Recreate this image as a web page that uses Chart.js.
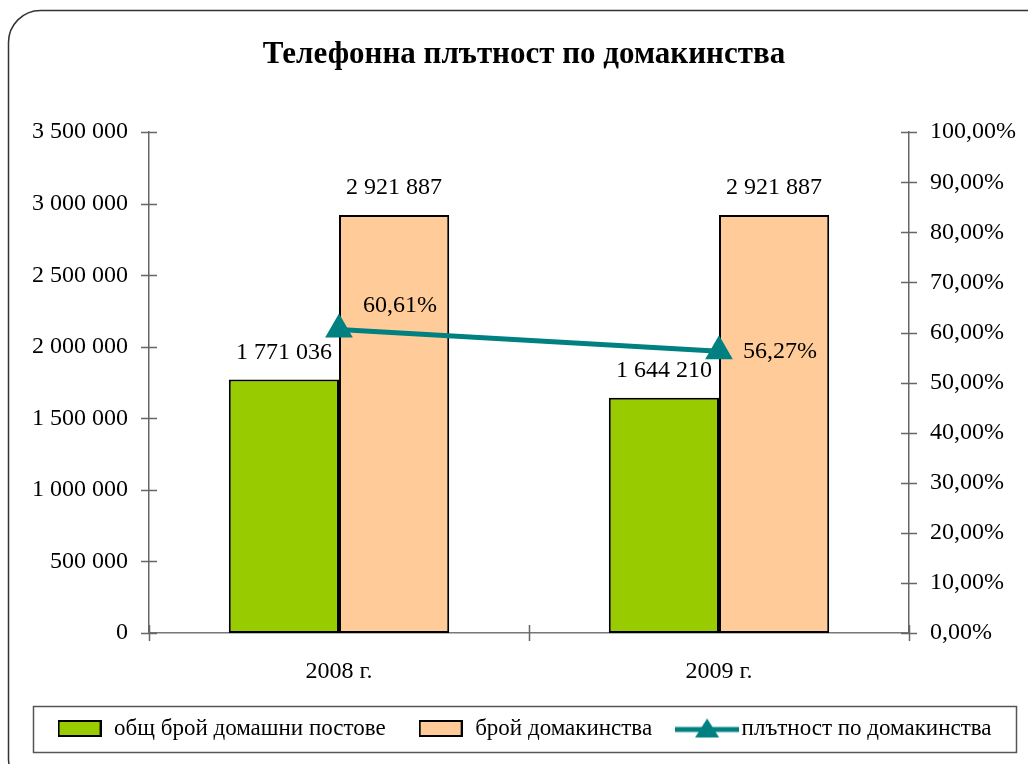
<!DOCTYPE html>
<html lang="bg">
<head>
    <meta charset="UTF-8">
    <title>Телефонна плътност по домакинства</title>
    <script src="https://cdn.jsdelivr.net/npm/chart.js"></script>
    <style>
        html, body { margin: 0; padding: 0; background: #fff; }
        #wrap { width: 1028px; height: 764px; }
    </style>
</head>
<body>
    <div id="wrap"><canvas id="grafico" width="1028" height="764"></canvas></div>

    <script>
        // Данни
        const godini = ['2008 г.', '2009 г.'];
        const postove = [1771036, 1644210];          // общ брой домашни постове
        const domakinstva = [2921887, 2921887];      // брой домакинства
        const plytnost = [0.6061, 0.5627];           // плътност по домакинства

        const SERIF = "'Liberation Serif', 'Times New Roman', serif";
        Chart.defaults.font.family = SERIF;
        Chart.defaults.color = '#000';

        const ZELENO = '#99CC00';
        const PRASKOVA = '#FFCC99';
        const TIRKOAZ = '#008080';

        // Форматиране на числата
        function hilyadi(v) {
            return String(Math.round(v)).replace(/\B(?=(\d{3})+(?!\d))/g, ' ');
        }
        function procent(v) {
            return (v * 100).toFixed(2).replace('.', ',') + '%';
        }

        // Малки картинки за легендата
        function kutiyka(cvyat) {
            const c = document.createElement('canvas');
            c.width = 44; c.height = 17;
            const g = c.getContext('2d');
            g.fillStyle = cvyat;
            g.fillRect(1, 1, 42, 15);
            g.lineWidth = 2;
            g.strokeStyle = '#000';
            g.strokeRect(1, 1, 42, 15);
            return c;
        }
        function liniya() {
            const c = document.createElement('canvas');
            c.width = 64; c.height = 24;
            const g = c.getContext('2d');
            g.strokeStyle = TIRKOAZ;
            g.lineWidth = 5;
            g.beginPath(); g.moveTo(0, 13); g.lineTo(64, 13); g.stroke();
            g.fillStyle = TIRKOAZ;
            g.beginPath(); g.moveTo(32, 2); g.lineTo(44, 21); g.lineTo(20, 21); g.closePath(); g.fill();
            return c;
        }

        // Рамка, кръстосани чертички, рамка на легендата, етикети
        const dopylnitelno = {
            id: 'dopylnitelno',
            beforeDraw(chart) {
                const ctx = chart.ctx;
                ctx.save();
                ctx.fillStyle = '#fff';
                ctx.fillRect(0, 0, chart.width, chart.height);
                ctx.restore();
            },
            afterDraw(chart) {
                const ctx = chart.ctx;
                const a = chart.chartArea;
                ctx.save();
                // рамка на диаграмата
                ctx.strokeStyle = '#333';
                ctx.lineWidth = 1.5;
                ctx.beginPath();
                ctx.roundRect(8.5, 10.5, 1050, 780, 32);
                ctx.stroke();

                // чертички по осите
                ctx.strokeStyle = '#666';
                ctx.lineWidth = 1.5;
                ctx.beginPath();
                const y = chart.scales.y, y1 = chart.scales.y1;
                y.ticks.forEach(t => {
                    const p = Math.round(y.getPixelForValue(t.value)) + 0.5;
                    ctx.moveTo(a.left - 8, p); ctx.lineTo(a.left + 8, p);
                });
                y1.ticks.forEach(t => {
                    const p = Math.round(y1.getPixelForValue(t.value)) + 0.5;
                    ctx.moveTo(a.right - 8, p); ctx.lineTo(a.right + 8, p);
                });
                const n = godini.length;
                for (let i = 0; i <= n; i++) {
                    const p = Math.round(a.left + i * (a.right - a.left) / n) + 0.5;
                    ctx.moveTo(p, a.bottom - 8); ctx.lineTo(p, a.bottom + 8);
                }
                ctx.stroke();

                // рамка на легендата
                const hb = chart.legend.legendHitBoxes;
                if (hb && hb.length) {
                    const sr = hb[0].top + hb[0].height / 2;
                    const lx = hb[0].left - 24;
                    const rx = hb[hb.length - 1].left + hb[hb.length - 1].width + 24;
                    ctx.strokeStyle = '#555';
                    ctx.lineWidth = 1.5;
                    ctx.strokeRect(Math.round(lx) + 0.5, Math.round(sr - 23) + 0.5, Math.round(rx - lx), 46);
                }
                ctx.restore();
            },
            afterDatasetsDraw(chart) {
                const ctx = chart.ctx;
                ctx.save();
                ctx.fillStyle = '#000';
                ctx.font = '24px ' + SERIF;
                ctx.textBaseline = 'middle';
                // стълбове
                [0, 1].forEach(d => {
                    const meta = chart.getDatasetMeta(d);
                    const vals = chart.data.datasets[d].data;
                    ctx.textAlign = 'center';
                    meta.data.forEach((el, i) => {
                        ctx.fillText(hilyadi(vals[i]), el.x, el.y - 27);
                    });
                });
                // линия
                const meta = chart.getDatasetMeta(2);
                const pomestvane = [-24, 1];
                ctx.textAlign = 'left';
                meta.data.forEach((el, i) => {
                    ctx.fillText(procent(plytnost[i]), el.x + 24, el.y + pomestvane[i]);
                });
                ctx.restore();
            }
        };

        const ctx = document.getElementById('grafico').getContext('2d');
        const chart = new Chart(ctx, {
            type: 'bar',
            data: {
                labels: godini,
                datasets: [
                    {
                        label: 'общ брой домашни постове',
                        data: postove,
                        backgroundColor: ZELENO,
                        borderColor: '#000',
                        borderWidth: 2,
                        borderSkipped: false,
                        yAxisID: 'y',
                        order: 2
                    },
                    {
                        label: 'брой домакинства',
                        data: domakinstva,
                        backgroundColor: PRASKOVA,
                        borderColor: '#000',
                        borderWidth: 2,
                        borderSkipped: false,
                        yAxisID: 'y',
                        order: 2
                    },
                    {
                        type: 'line',
                        label: 'плътност по домакинства',
                        data: plytnost,
                        borderColor: TIRKOAZ,
                        backgroundColor: TIRKOAZ,
                        borderWidth: 5,
                        pointStyle: 'triangle',
                        pointRadius: 16,
                        pointBorderWidth: 0,
                        yAxisID: 'y1',
                        order: 0
                    }
                ]
            },
            options: {
                responsive: false,
                animation: false,
                categoryPercentage: 0.58,
                barPercentage: 1,
                layout: { padding: { left: 20, right: 0, top: 0, bottom: 14 } },
                plugins: {
                    tooltip: { enabled: false },
                    title: {
                        display: true,
                        text: 'Телефонна плътност по домакинства',
                        font: { size: 31, weight: 'bold' },
                        padding: { top: 36, bottom: 59 }
                    },
                    legend: {
                        position: 'bottom',
                        labels: {
                            font: { size: 23 },
                            usePointStyle: true,
                            pointStyleWidth: 46,
                            padding: 32,
                            generateLabels(ch) {
                                const kartinki = [kutiyka(ZELENO), kutiyka(PRASKOVA), liniya()];
                                return ch.data.datasets.map((ds, i) => ({
                                    text: ds.label,
                                    pointStyle: kartinki[i],
                                    datasetIndex: i,
                                    fontColor: '#000',
                                    lineWidth: 0,
                                    hidden: false
                                }));
                            }
                        }
                    }
                },
                scales: {
                    x: {
                        grid: { display: false, drawTicks: false },
                        border: { display: true, color: '#777', width: 1.5 },
                        ticks: { font: { size: 24 }, padding: 24 },
                        afterFit(s) { s.height = 52; }
                    },
                    y: {
                        position: 'left',
                        min: 0,
                        max: 3500000,
                        grid: { display: false, drawTicks: false },
                        border: { display: true, color: '#666', width: 1.5 },
                        ticks: { stepSize: 500000, font: { size: 24 }, padding: 21, callback: v => hilyadi(v) },
                        afterFit(s) { s.width = 129; }
                    },
                    y1: {
                        position: 'right',
                        min: 0,
                        max: 1,
                        grid: { display: false, drawTicks: false },
                        border: { display: true, color: '#666', width: 1.5 },
                        ticks: { stepSize: 0.1, font: { size: 24 }, padding: 21, callback: v => procent(v) },
                        afterFit(s) { s.width = 119; }
                    }
                }
            },
            plugins: [dopylnitelno]
        });
    </script>
</body>
</html>
